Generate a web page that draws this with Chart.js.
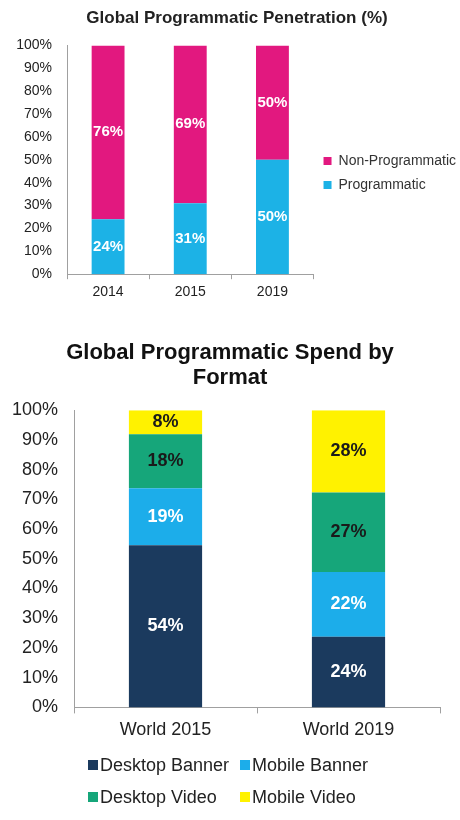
<!DOCTYPE html>
<html>
<head>
<meta charset="utf-8">
<script src="https://cdn.jsdelivr.net/npm/chart.js@4/dist/chart.umd.min.js"></script>
<style>
    body { margin: 0; background: #fff; font-family: 'Liberation Sans', Arial, sans-serif; }
    #wrap1 { position: absolute; left: 0; top: 0; width: 460px; height: 310px; }
    #wrap2 { position: absolute; left: 0; top: 330px; width: 460px; height: 420px; }
    #legend2 { position: absolute; left: 88px; top: 749px; width: 360px; display: grid;
        grid-template-columns: 152px 180px; grid-auto-rows: 32px; font-size: 18px; color: #222; }
    #legend2 .item { display: flex; align-items: center; white-space: nowrap; }
    #legend2 .box { width: 10px; height: 10px; margin-right: 2px; }
</style>
</head>
<body>
<div id="wrap1"><canvas id="chart1"></canvas></div>
<div id="wrap2"><canvas id="chart2"></canvas></div>
<div id="legend2"></div>
<script>
// chart 1: penetration
const years = ['2014', '2015', '2019'];
const programmatic = [24, 31, 50];
const nonProgrammatic = [76, 69, 50];

// chart 2: spend by format
const regions = ['World 2015', 'World 2019'];
const desktopBanner = [54, 24];
const mobileBanner = [19, 22];
const desktopVideo = [18, 27];
const mobileVideo = [8, 28];

const yTicks = [0, 10, 20, 30, 40, 50, 60, 70, 80, 90, 100];

const FONT = "'Liberation Sans', Arial, sans-serif";

// writes the value in the middle of each bar segment
const segmentLabels = {
    id: 'segmentLabels',
    afterDatasetsDraw(chart, args, opts) {
        const ctx = chart.ctx;
        ctx.save();
        ctx.textAlign = 'center';
        ctx.textBaseline = 'middle';
        ctx.font = 'bold ' + opts.size + 'px ' + FONT;
        chart.data.datasets.forEach((ds, i) => {
            const meta = chart.getDatasetMeta(i);
            meta.data.forEach((bar, j) => {
                ctx.fillStyle = ds.labelColor;
                ctx.fillText(ds.raw[j] + '%', bar.x, (bar.y + bar.base) / 2);
            });
        });
        ctx.restore();
    }
};

function axes(fontSize, yWidth, tickGap, xTickLen, xPad) {
    return {
        x: {
            stacked: true,
            grid: { display: true, drawOnChartArea: false, offset: true, color: '#a0a0a0', tickLength: xTickLen },
            border: { color: '#a0a0a0' },
            ticks: { color: '#222', font: { size: fontSize, family: FONT }, padding: xPad }
        },
        y: {
            stacked: true,
            min: 0,
            max: 100,
            afterBuildTicks: (axis) => { axis.ticks = yTicks.map(v => ({ value: v })); },
            afterFit: (axis) => { axis.width = yWidth; },
            grid: { display: false, drawTicks: false },
            border: { display: true, color: '#a0a0a0' },
            ticks: { color: '#222', font: { size: fontSize, family: FONT }, padding: tickGap,
                callback: v => v + '%' }
        }
    };
}

new Chart(document.getElementById('chart1'), {
    type: 'bar',
    data: {
        labels: years,
        datasets: [
            { label: 'Programmatic', data: programmatic, raw: programmatic,
              backgroundColor: '#1cb2e6', labelColor: '#fff' },
            { label: 'Non-Programmatic', data: nonProgrammatic, raw: nonProgrammatic,
              backgroundColor: '#e2187f', labelColor: '#fff' }
        ]
    },
    options: {
        responsive: true,
        maintainAspectRatio: false,
        animation: false,
        datasets: { bar: { barPercentage: 0.5, categoryPercentage: 0.8 } },
        layout: { padding: { left: 8, right: -6, top: 0, bottom: 4 } },
        scales: axes(14, 59, 15, 5, 5),
        plugins: {
            title: {
                display: true,
                text: 'Global Programmatic Penetration (%)',
                color: '#222',
                font: { size: 17, weight: 'bold', family: FONT },
                padding: { top: 8, bottom: 17 }
            },
            legend: {
                position: 'right',
                reverse: true,
                maxWidth: 160,
                title: { display: true, text: ' ', font: { size: 10 }, padding: 14 },
                labels: { boxWidth: 8, boxHeight: 8, color: '#333', padding: 10,
                    font: { size: 14, family: FONT } }
            },
            tooltip: { enabled: false },
            segmentLabels: { size: 15 }
        }
    },
    plugins: [segmentLabels]
});

// 100% stacked: scale each column to its own total
const formatSeries = [
    { label: 'Desktop Banner', values: desktopBanner, color: '#1b3a5e', text: '#fff' },
    { label: 'Mobile Banner', values: mobileBanner, color: '#1cadea', text: '#fff' },
    { label: 'Desktop Video', values: desktopVideo, color: '#16a67a', text: '#1a1a1a' },
    { label: 'Mobile Video', values: mobileVideo, color: '#fff200', text: '#1a1a1a' }
];
const totals = regions.map((_, j) => formatSeries.reduce((s, f) => s + f.values[j], 0));

const scales2 = axes(18, 74, 16, 6, 6);
// empty right-hand gutter so the title stays centred on the page
scales2.gutter = {
    position: 'right',
    grid: { display: false, drawTicks: false },
    border: { display: false },
    ticks: { display: false },
    afterFit: (axis) => { axis.width = 20; }
};

new Chart(document.getElementById('chart2'), {
    type: 'bar',
    data: {
        labels: regions,
        datasets: formatSeries.map(f => ({
            label: f.label,
            data: f.values.map((v, j) => v / totals[j] * 100),
            raw: f.values,
            backgroundColor: f.color,
            labelColor: f.text
        }))
    },
    options: {
        responsive: true,
        maintainAspectRatio: false,
        animation: false,
        datasets: { bar: { barPercentage: 0.5, categoryPercentage: 0.8 } },
        layout: { padding: { left: 0, right: 0, top: 0, bottom: 3 } },
        scales: scales2,
        plugins: {
            title: {
                display: true,
                text: ['Global Programmatic Spend by', 'Format'],
                color: '#111',
                font: { size: 22, weight: 'bold', family: FONT, lineHeight: 1.14 },
                padding: { top: 10, bottom: 20 }
            },
            legend: { display: false },
            tooltip: { enabled: false },
            segmentLabels: { size: 18 }
        }
    },
    plugins: [segmentLabels]
});

// legend for chart 2 laid out as a 2x2 grid
const legend2 = document.getElementById('legend2');
formatSeries.forEach(f => {
    const item = document.createElement('div');
    item.className = 'item';
    const box = document.createElement('span');
    box.className = 'box';
    box.style.background = f.color;
    item.appendChild(box);
    item.appendChild(document.createTextNode(f.label));
    legend2.appendChild(item);
});
</script>
</body>
</html>
